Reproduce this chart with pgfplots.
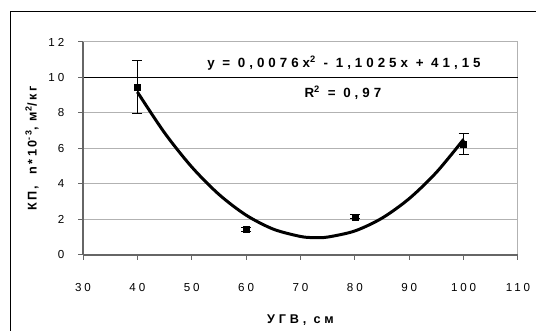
\documentclass[border=0pt]{standalone}
\usepackage{fontspec}
\setmainfont{Liberation Sans}
\newfontfamily\spaced[LetterSpace=25]{Liberation Sans}
\newfontfamily\spacedb[LetterSpace=30]{Liberation Sans Bold}
\newfontfamily\spacedy[LetterSpace=18]{Liberation Sans Bold}
\usepackage{pgfplots}
\pgfplotsset{compat=1.18}
\newlength\px
\setlength\px{0.75pt}
\begin{document}
\begin{tikzpicture}[x=\px,y=\px]
\useasboundingbox (0,0) rectangle (536,331);
\draw[black, line width=1\px] (10,0) -- (10,319) -- (536,319);
\begin{axis}[
  at={(83\px,76\px)}, anchor=south west,
  scale only axis, width=435\px, height=213\px,
  xmin=30, xmax=110, ymin=0, ymax=12,
  xtick={30,40,...,110}, ytick={0,2,...,12},
  ymajorgrids, grid style={gray!60, line width=1\px},
  axis line style={gray!60, line width=1\px},
  tick style={gray!80!black, line width=1\px},
  tick align=outside, major tick length=5\px,
  xtick pos=bottom, ytick pos=left,
  /pgf/number format/assume math mode=true,
  ticklabel style={font=\spaced\fontsize{8.7}{10}\selectfont},
  xticklabel style={yshift=-19\px},
  yticklabel style={xshift=-9\px},
  xlabel={\spacedb\fontsize{9.5}{10}\selectfont УГВ, см},
  xlabel style={at={(axis description cs:0.5,0)}, anchor=center, yshift=-65\px},
  ylabel={\spacedy\fontsize{9.5}{10}\selectfont КП,\ \ n*10\textsuperscript{-3}, м\textsuperscript{2}/кг},
  ylabel style={at={(axis description cs:0,0.5)}, anchor=center, yshift=51\px},
  clip=false,
]
\draw[black, line width=1\px] (axis cs:30,10) -- (axis cs:110,10);
\draw[gray!80!black, line width=1.2\px] (axis cs:30,0) -- (axis cs:30,12);
\draw[gray!80!black, line width=1.2\px] (axis cs:30,0) -- (axis cs:110,0);
\addplot[black, line width=3\px, smooth, no marks] coordinates {
(40,9.185) (45,6.883) (50,4.959) (55,3.413) (60,2.245) (65,1.456) (70,1.044) (72.5,0.980) (75,1.011) (80,1.355) (85,2.078) (90,3.179) (95,4.658) (100,6.515)
};
\addplot[only marks, mark=square*, mark size=3\px, black,
  error bars/.cd, y dir=both, y explicit,
  error bar style={black, line width=1\px},
  error mark options={black, rotate=90, mark size=5\px, line width=1\px}]
 coordinates {
(40,9.45) +- (0,1.48)
(60,1.45) +- (0,0.12)
(80,2.15) +- (0,0.12)
(100,6.25) +- (0,0.6)
};
\node[font=\spacedb\fontsize{10}{10}\selectfont] at (axis cs:78,10.8) {y = 0,0076x\textsuperscript{2} - 1,1025x + 41,15};
\node[font=\spacedb\fontsize{10}{10}\selectfont] at (axis cs:77.8,9.15) {R\textsuperscript{2} = 0,97};
\end{axis}
\end{tikzpicture}
\end{document}
